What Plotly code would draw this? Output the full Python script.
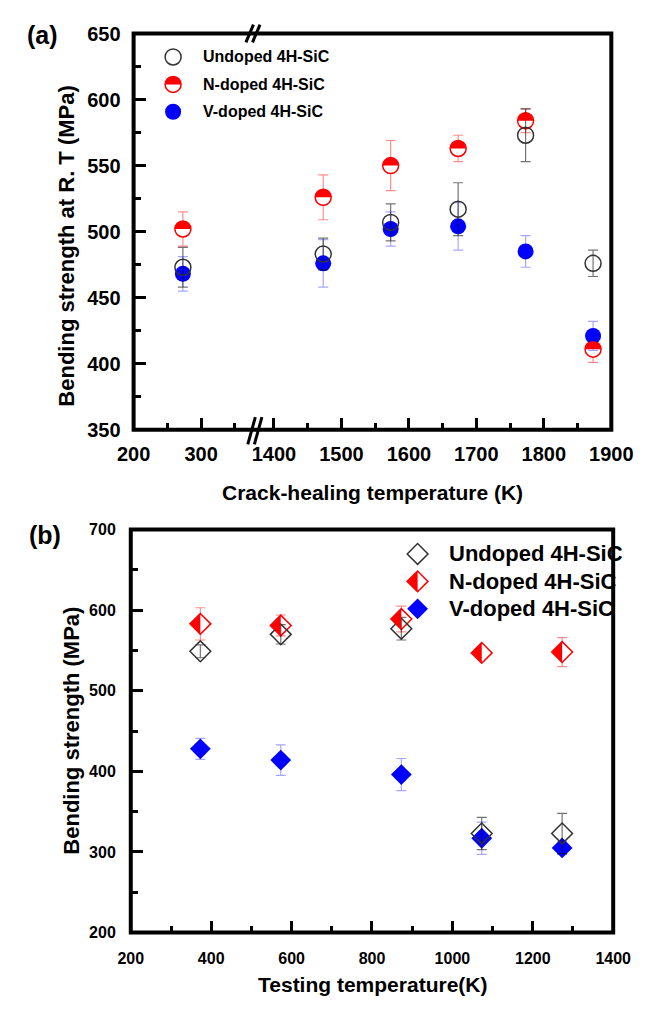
import numpy as np
import plotly.graph_objects as go

# ---------------- data ----------------
# (a) crack-healing temperature vs bending strength at R.T.
a_temp = [273, 1473, 1573, 1673, 1773, 1873]
a_undoped = [473, 483, 507, 517, 573, 476]
a_undoped_err = [15, 12, 14, 20, 20, 10]
a_ndoped = [502, 526, 550, 563, 584, 411]
a_ndoped_err = [13, 17, 19, 10, 9, 10]
a_vdoped = [468, 476, 502, 504, 485, 421]
a_vdoped_err = [13, 18, 13, 18, 12, 11]

# (b) testing temperature vs bending strength
b_temp = [373, 573, 873, 1073, 1273]
b_undoped = [549, 570, 577, 323, 323]
b_undoped_err = [8, 12, 14, 20, 25]
b_ndoped = [583, 581, 589, 547, 548]
b_ndoped_err = [20, 13, 16, 5, 18]
b_vdoped = [428, 414, 396, 317, 305]
b_vdoped_err = [13, 19, 20, 20, 8]

series_names = ["Undoped 4H-SiC", "N-doped 4H-SiC", "V-doped 4H-SiC"]
a_yticks = [350, 400, 450, 500, 550, 600, 650]
a_xticks_low = [200, 300]
a_xticks_high = [1400, 1500, 1600, 1700, 1800, 1900]
b_yticks = [200, 300, 400, 500, 600, 700]
b_xticks = [200, 400, 600, 800, 1000, 1200, 1400]

# ---------------- geometry ----------------
W, H = 654, 1017
def fx(px):
    return px / W
def fy(py):
    return 1 - py / H

AL, AR, AT, AB = 124, 632, 23, 428
BL, BR, BT, BB = 121, 634, 530, 942
SEG1 = [200, 379]
SEG2 = [1371, 1900]
ppk = (AR - AL) / ((SEG1[1] - SEG1[0]) + (SEG2[1] - SEG2[0]))
BRK = AL + (SEG1[1] - SEG1[0]) * ppk

RED = "#FF0000"
BLUE = "#0000FF"
DARK = "#333333"
FONT = "Liberation Sans, Arial, sans-serif"

fig = go.Figure()
shapes = []

def half_circle_path(r, n=32):
    pts = []
    for k in range(n + 1):
        t = np.pi * k / n
        pts.append((r * np.cos(t), r * np.sin(t)))
    return "M " + " L ".join(f"{x:.2f},{y:.2f}" for x, y in pts) + " Z"

def half_diamond_path(R):
    return f"M 0,{R:.2f} L {-R:.2f},0 L 0,{-R:.2f} Z"

CIRC = 16
DIA = 16
R_DIA = 1.3 * DIA / 2

def add(xs, ys, errs, marker, ecol, xa, ya):
    fig.add_trace(go.Scatter(
        x=xs, y=ys, mode="markers", marker=marker,
        error_y=dict(type="data", array=errs, color=ecol, thickness=1.2, width=5),
        xaxis=xa, yaxis=ya, showlegend=False, hoverinfo="skip"))

# ---- panel (a) ----
low = [i for i, t in enumerate(a_temp) if t < SEG1[1]]
high = [i for i, t in enumerate(a_temp) if t >= SEG2[0]]
for idx, xa in ((low, "x"), (high, "x2")):
    xs = [a_temp[i] for i in idx]
    add(xs, [a_ndoped[i] for i in idx], [a_ndoped_err[i] for i in idx],
        dict(symbol="circle", size=CIRC, color="white", line=dict(color=RED, width=1.5)),
        "rgba(255,0,0,0.45)", xa, "y")
    for i in idx:
        shapes.append(dict(type="path", xref=xa, yref="y", xsizemode="pixel", ysizemode="pixel",
                           xanchor=a_temp[i], yanchor=a_ndoped[i], path=half_circle_path(CIRC / 2),
                           fillcolor=RED, line=dict(width=0), layer="above"))
    add(xs, [a_vdoped[i] for i in idx], [a_vdoped_err[i] for i in idx],
        dict(symbol="circle", size=CIRC, color=BLUE, line=dict(width=0)),
        "rgba(0,0,255,0.35)", xa, "y")
    add(xs, [a_undoped[i] for i in idx], [a_undoped_err[i] for i in idx],
        dict(symbol="circle-open", size=CIRC, color=DARK, line=dict(color=DARK, width=1.5)),
        "rgba(0,0,0,0.55)", xa, "y")

# ---- panel (b) ----
add(b_temp, b_ndoped, b_ndoped_err,
    dict(symbol="diamond", size=DIA, color="white", line=dict(color=RED, width=1.5)),
    "rgba(255,0,0,0.45)", "x3", "y2")
for t, v in zip(b_temp, b_ndoped):
    shapes.append(dict(type="path", xref="x3", yref="y2", xsizemode="pixel", ysizemode="pixel",
                       xanchor=t, yanchor=v, path=half_diamond_path(R_DIA),
                       fillcolor=RED, line=dict(width=0), layer="above"))
add(b_temp, b_vdoped, b_vdoped_err,
    dict(symbol="diamond", size=DIA, color=BLUE, line=dict(width=0)),
    "rgba(0,0,255,0.35)", "x3", "y2")
add(b_temp, b_undoped, b_undoped_err,
    dict(symbol="diamond-open", size=DIA, color=DARK, line=dict(color=DARK, width=1.5)),
    "rgba(0,0,0,0.55)", "x3", "y2")

# ---------------- frames & break marks ----------------
for (l, r, t, b) in ((AL, AR, AT, AB), (BL, BR, BT, BB)):
    shapes.append(dict(type="rect", xref="paper", yref="paper", x0=fx(l), x1=fx(r),
                       y0=fy(b), y1=fy(t), line=dict(color="black", width=4), layer="above"))

def seg(x0, y0, x1, y1, w=3):
    shapes.append(dict(type="line", xref="paper", yref="paper", x0=fx(x0), y0=fy(y0),
                       x1=fx(x1), y1=fy(y1), line=dict(color="black", width=w), layer="above"))
# bottom break
seg(BRK - 7, AB + 15, BRK + 1, AB - 13)
seg(BRK, AB + 15, BRK + 8, AB - 13)
# top break
seg(BRK - 9, AT + 9, BRK - 1, AT - 9)
seg(BRK - 2, AT + 9, BRK + 6, AT - 9)

# ---------------- legends (manual) ----------------
LEG_FONT_A = dict(family=FONT, size=16, color="black", weight="bold")
LEG_FONT_B = dict(family=FONT, size=22, color="black", weight="bold")
annotations = []
a_leg_x, a_leg_rows = 166, [47, 75, 103]
b_leg_x, b_leg_rows = 426, [555, 583, 611]
r = CIRC / 2
shapes.append(dict(type="circle", xref="paper", yref="paper", xsizemode="pixel", ysizemode="pixel",
                   xanchor=fx(a_leg_x), yanchor=fy(a_leg_rows[0]), x0=-r, x1=r, y0=-r, y1=r,
                   line=dict(color=DARK, width=1.5), fillcolor="rgba(0,0,0,0)", layer="above"))
shapes.append(dict(type="circle", xref="paper", yref="paper", xsizemode="pixel", ysizemode="pixel",
                   xanchor=fx(a_leg_x), yanchor=fy(a_leg_rows[1]), x0=-r, x1=r, y0=-r, y1=r,
                   line=dict(color=RED, width=1.5), fillcolor="white", layer="above"))
shapes.append(dict(type="path", xref="paper", yref="paper", xsizemode="pixel", ysizemode="pixel",
                   xanchor=fx(a_leg_x), yanchor=fy(a_leg_rows[1]), path=half_circle_path(r),
                   fillcolor=RED, line=dict(width=0), layer="above"))
shapes.append(dict(type="circle", xref="paper", yref="paper", xsizemode="pixel", ysizemode="pixel",
                   xanchor=fx(a_leg_x), yanchor=fy(a_leg_rows[2]), x0=-r, x1=r, y0=-r, y1=r,
                   line=dict(width=0), fillcolor=BLUE, layer="above"))
Rd = R_DIA
dpath = f"M {-Rd:.2f},0 L 0,{Rd:.2f} L {Rd:.2f},0 L 0,{-Rd:.2f} Z"
shapes.append(dict(type="path", xref="paper", yref="paper", xsizemode="pixel", ysizemode="pixel",
                   xanchor=fx(b_leg_x), yanchor=fy(b_leg_rows[0]), path=dpath,
                   fillcolor="rgba(0,0,0,0)", line=dict(color=DARK, width=1.5), layer="above"))
shapes.append(dict(type="path", xref="paper", yref="paper", xsizemode="pixel", ysizemode="pixel",
                   xanchor=fx(b_leg_x), yanchor=fy(b_leg_rows[1]), path=dpath,
                   fillcolor="white", line=dict(color=RED, width=1.5), layer="above"))
shapes.append(dict(type="path", xref="paper", yref="paper", xsizemode="pixel", ysizemode="pixel",
                   xanchor=fx(b_leg_x), yanchor=fy(b_leg_rows[1]), path=half_diamond_path(Rd),
                   fillcolor=RED, line=dict(width=0), layer="above"))
shapes.append(dict(type="path", xref="paper", yref="paper", xsizemode="pixel", ysizemode="pixel",
                   xanchor=fx(b_leg_x), yanchor=fy(b_leg_rows[2]), path=dpath,
                   fillcolor=BLUE, line=dict(width=0), layer="above"))

for name, yy in zip(series_names, a_leg_rows):
    annotations.append(dict(xref="paper", yref="paper", x=fx(196), y=fy(yy), text=name,
                            showarrow=False, xanchor="left", yanchor="middle", font=LEG_FONT_A))
for name, yy in zip(series_names, b_leg_rows):
    annotations.append(dict(xref="paper", yref="paper", x=fx(457), y=fy(yy), text=name,
                            showarrow=False, xanchor="left", yanchor="middle", font=LEG_FONT_B))

# ---------------- titles ----------------
TITLE_FONT = dict(family=FONT, size=21, color="black", weight="bold")
def ann(x, y, text, font, angle=0):
    annotations.append(dict(xref="paper", yref="paper", x=fx(x), y=fy(y), text=text,
                            showarrow=False, xanchor="center", yanchor="middle",
                            font=font, textangle=angle))
ann(378, 492, "Crack-healing temperature (K)", TITLE_FONT)
ann(378, 995, "Testing temperature(K)", TITLE_FONT)
ann(53, 240, "Bending strength at R. T (MPa)", dict(TITLE_FONT, size=22), -90)
ann(57, 736, "Bending strength (MPa)", dict(TITLE_FONT, size=22), -90)
ann(27, 25, "(a)", dict(family=FONT, size=25, color="black", weight="bold"))
ann(30, 536, "(b)", dict(family=FONT, size=25, color="black", weight="bold"))

# ---------------- axes ----------------
TICK_A = dict(family=FONT, size=20, color="black", weight="bold")
TICK_B = dict(family=FONT, size=16, color="black", weight="bold")

def axis(domain, rng, tickvals, minorvals, anchor, font, standoff):
    return dict(domain=domain, range=rng, anchor=anchor, tickmode="array", tickvals=tickvals,
                ticks="inside", ticklen=12, tickwidth=3, tickcolor="black",
                minor=dict(tickmode="array", tickvals=minorvals, ticks="inside", ticklen=7,
                           tickwidth=3, tickcolor="black"),
                showgrid=False, zeroline=False, showline=False, tickfont=font,
                ticklabelstandoff=standoff, fixedrange=True)

eps = 0.05
fig.update_layout(
    width=W, height=H, autosize=False,
    margin=dict(l=0, r=0, t=0, b=0),
    paper_bgcolor="white", plot_bgcolor="white",
    showlegend=False,
    xaxis=axis([fx(AL), fx(BRK)], [SEG1[0] - eps, SEG1[1]], a_xticks_low, [250, 350], "y", TICK_A, 10),
    xaxis2=axis([fx(BRK), fx(AR)], [SEG2[0], SEG2[1] + eps], a_xticks_high,
                [1450, 1550, 1650, 1750, 1850], "y", TICK_A, 10),
    yaxis=axis([fy(AB), fy(AT)], [350 - eps, 650 + eps], a_yticks,
               [375, 425, 475, 525, 575, 625], "x", TICK_A, 12),
    xaxis3=axis([fx(BL), fx(BR)], [200 - eps, 1400 + eps], b_xticks,
                [300, 500, 700, 900, 1100, 1300], "y2", TICK_B, 14),
    yaxis2=axis([fy(BB), fy(BT)], [200 - eps, 700 + eps], b_yticks,
                [250, 350, 450, 550, 650], "x3", TICK_B, 14),
    shapes=shapes,
    annotations=annotations,
)

fig.write_html("out.html",
               config={"displayModeBar": False, "staticPlot": True},
               post_script="document.body.style.margin='0';document.body.style.overflow='hidden';")
